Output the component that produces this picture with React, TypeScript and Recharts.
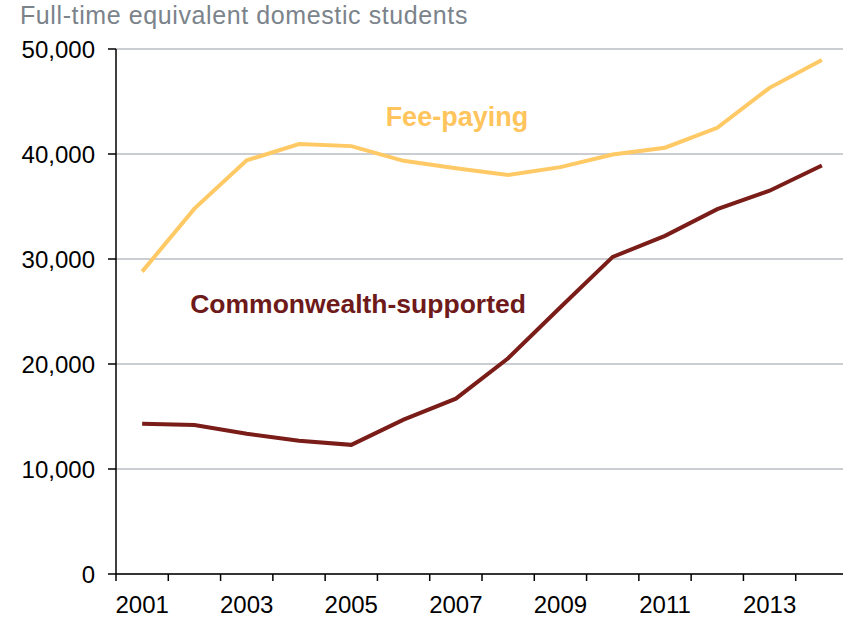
import React from 'react';
import { LineChart, Line, XAxis, YAxis, CartesianGrid, ReferenceDot } from 'recharts';

const years = [2001, 2002, 2003, 2004, 2005, 2006, 2007, 2008, 2009, 2010, 2011, 2012, 2013, 2014];
const feePaying = [28800, 34800, 39400, 40950, 40750, 39350, 38650, 38000, 38750, 39950, 40600, 42500, 46300, 48950];
const commonwealth = [14300, 14180, 13350, 12700, 12300, 14700, 16700, 20550, 25400, 30200, 32200, 34750, 36500, 38900];
const yTicks = [0, 10000, 20000, 30000, 40000, 50000];
const xLabelTicks = [2001, 2003, 2005, 2007, 2009, 2011, 2013];
const xBoundaryTicks = [2000.5, 2001.5, 2002.5, 2003.5, 2004.5, 2005.5, 2006.5, 2007.5, 2008.5, 2009.5, 2010.5, 2011.5, 2012.5, 2013.5, 2014.5];
const title = 'Full-time equivalent domestic students';
const feeLabel = { text: 'Fee-paying', x: 2007.02, y: 43600 };
const cwLabel = { text: 'Commonwealth-supported', x: 2005.13, y: 25740 };

const data = years.map((year, i) => ({ year, fee: feePaying[i], cw: commonwealth[i] }));
const allXTicks = [...xBoundaryTicks, ...xLabelTicks].sort((a, b) => a - b);

const FONT = "'Liberation Sans', Arial, Helvetica, sans-serif";
const FEE_COLOR = '#FFC966';
const CW_COLOR = '#7A1C18';

const fmt = (v: number) => v.toLocaleString('en-US');

const XTick = (props: any) => {
  const { x, y, payload } = props;
  const v = payload.value as number;
  if (xBoundaryTicks.includes(v)) {
    return <line x1={x} x2={x} y1={y} y2={y + 7} stroke="#000" strokeWidth={1.5} />;
  }
  return (
    <text x={x} y={y + 22} dy="0.71em" textAnchor="middle" fill="#000" fontSize={24} fontFamily={FONT}>
      {String(v)}
    </text>
  );
};

export default function App() {
  return (
    <div style={{ position: 'absolute', left: 0, top: 0, width: 843, height: 619, overflow: 'hidden', background: '#fff', fontFamily: FONT }}>
      <div style={{ position: 'absolute', left: 20, top: 3, fontSize: 25, lineHeight: '25px', letterSpacing: 0.6, color: '#7B838B', whiteSpace: 'nowrap' }}>
        {title}
      </div>
      <LineChart width={860} height={619} data={data} margin={{ top: 49, right: 12, left: 0, bottom: 0 }}>
        <CartesianGrid vertical={false} stroke="#B9BDC2" strokeWidth={1.5} />
        <XAxis
          dataKey="year"
          type="number"
          domain={[2000.5, 2014.5]}
          ticks={allXTicks}
          interval={0}
          tick={<XTick />}
          tickLine={false}
          tickSize={0}
          tickMargin={0}
          height={45}
          axisLine={{ stroke: '#000', strokeWidth: 1.5 }}
        />
        <YAxis
          domain={[0, 50000]}
          ticks={yTicks}
          interval={0}
          width={116}
          tickFormatter={fmt}
          tickSize={8}
          tickMargin={13}
          axisLine={{ stroke: '#000', strokeWidth: 1.5 }}
          tickLine={{ stroke: '#000', strokeWidth: 1.5 }}
          tick={{ fill: '#000', fontSize: 24, fontFamily: FONT }}
        />
        <Line type="linear" dataKey="fee" stroke={FEE_COLOR} strokeWidth={4} dot={false} isAnimationActive={false} />
        <Line type="linear" dataKey="cw" stroke={CW_COLOR} strokeWidth={4} dot={false} isAnimationActive={false} />
        <ReferenceDot
          x={feeLabel.x}
          y={feeLabel.y}
          r={0}
          fill="none"
          stroke="none"
          label={{ value: feeLabel.text, position: 'center', fill: '#FFC45C', fontSize: 27, fontWeight: 'bold', fontFamily: FONT }}
        />
        <ReferenceDot
          x={cwLabel.x}
          y={cwLabel.y}
          r={0}
          fill="none"
          stroke="none"
          label={{ value: cwLabel.text, position: 'center', fill: '#6E1A1A', fontSize: 26.5, fontWeight: 'bold', fontFamily: FONT }}
        />
      </LineChart>
    </div>
  );
}
